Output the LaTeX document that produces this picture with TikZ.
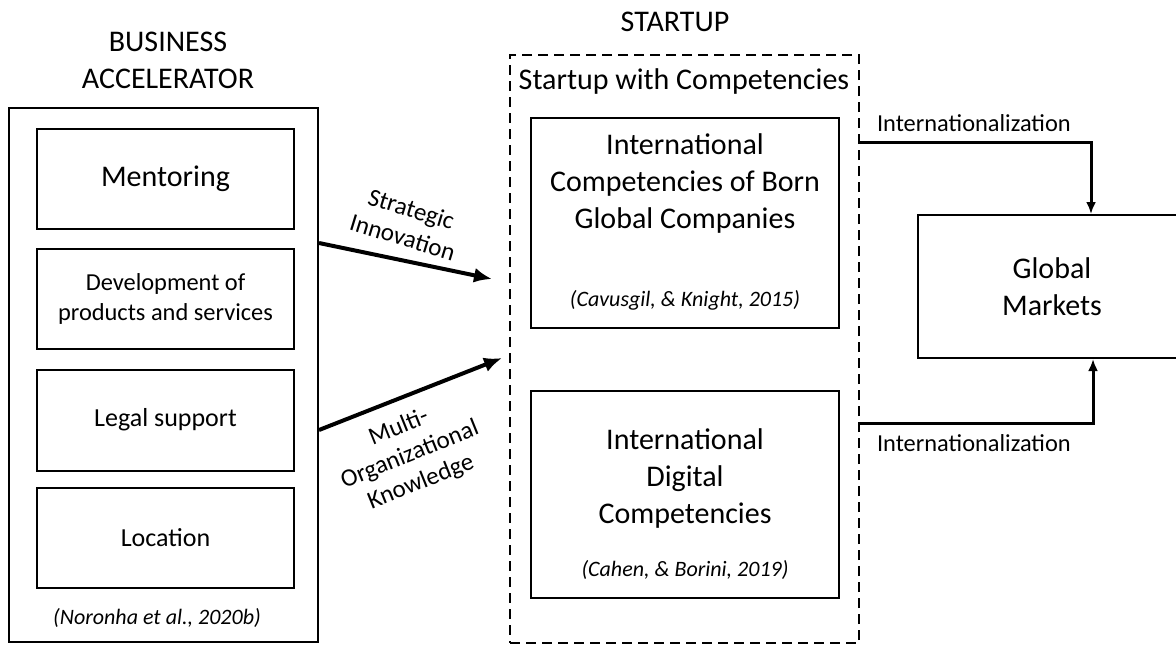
\documentclass[tikz,border=0pt]{standalone}
\usepackage{fontspec}
\setmainfont{Carlito}
\usetikzlibrary{arrows.meta}

\tikzset{
	box/.style={draw, line width=1pt, inner sep=0pt},
	dashbox/.style={draw, line width=1.2pt, dash pattern=on 5pt off 3pt, inner sep=0pt},
	big/.style={font=\fontsize{15}{18.5}\selectfont, align=center},
	mid/.style={font=\fontsize{13}{15.5}\selectfont, align=center},
	small/.style={font=\fontsize{12.2}{15}\selectfont, align=center},
	cite/.style={font=\fontsize{11}{13}\selectfont\itshape},
	lbl/.style={font=\fontsize{12.5}{14.8}\selectfont, align=center},
	link/.style={line width=2pt, -{Latex[length=9pt,width=7.5pt]}},
	intl/.style={line width=1.5pt, -{Latex[length=6pt,width=5pt]}},
}

\begin{document}
\begin{tikzpicture}[x=0.5pt,y=-0.5pt]
	\useasboundingbox (0,0) rectangle (1176,644);
	% business accelerator
	\node[big] (batitle) at (168,60) {BUSINESS\\ACCELERATOR};
	\node[box,minimum width=154.5pt,minimum height=267pt] (ba) at (163.5,375) {};
	\node[box,big,minimum width=128.5pt,minimum height=50pt] (ment) at (165.5,179) {Mentoring};
	\node[box,small,minimum width=128.5pt,minimum height=50pt] (dev) at (165.5,299) {Development of\\products and services};
	\node[box,mid,minimum width=128.5pt,minimum height=50.5pt] (legal) at (165.5,420.5) {\raisebox{3pt}{Legal support}};
	\node[box,mid,minimum width=128.5pt,minimum height=50pt] (loc) at (165.5,538) {Location};
	\node[cite] (bacite) at (157,618) {(Noronha et al., 2020b)};
	% startup
	\node[big] (sutitle) at (675,22) {STARTUP};
	\node[dashbox,minimum width=174.5pt,minimum height=294pt] (su) at (684.5,349) {};
	\node[big] (suhead) at (684,81) {Startup with Competencies};
	\node[box,minimum width=154pt,minimum height=105pt] (born) at (685,223) {};
	\node[big] (borntxt) at (685,183) {International\\Competencies of Born\\Global Companies};
	\node[cite] (borncite) at (685,300) {(Cavusgil, \& Knight, 2015)};
	\node[box,minimum width=154pt,minimum height=103.5pt] (dig) at (685,494.5) {};
	\node[big] (digtxt) at (685,478) {International\\Digital\\Competencies};
	\node[cite] (digcite) at (685,570) {(Cahen, \& Borini, 2019)};
	% global markets
	\node[box,big,minimum width=134pt,minimum height=71.5pt] (gm) at (1052,286.5) {Global\\Markets};
	% links
	\coordinate (sitip) at (492,279);
	\coordinate (motip) at (502,358);
	\draw[link] (ba.east |- 0,243) -- (sitip);
	\draw[link] (ba.east |- 0,430) -- (motip);
	\node[lbl,rotate=-17] (silbl) at (407,223) {Strategic\\Innovation};
	\node[lbl,rotate=22] (molbl) at (410,455) {Multi-\\Organizational\\Knowledge};
	\draw[intl] (su.east |- 0,142) -| ([xshift=19.5pt]gm.north);
	\draw[intl] (su.east |- 0,423) -| ([xshift=20.5pt]gm.south);
	\node[small,anchor=west] (intltop) at (870,123) {Internationalization};
	\node[small,anchor=west] (intlbot) at (870,443) {Internationalization};
\end{tikzpicture}
\end{document}
